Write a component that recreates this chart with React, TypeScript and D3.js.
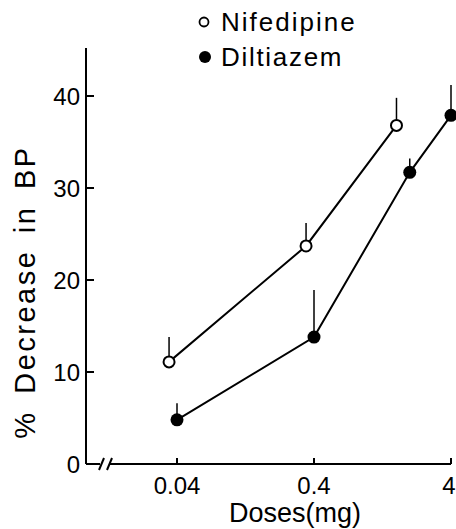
import * as d3 from 'd3'

const width = 456
const height = 529

const doseTicks = [0.04, 0.4, 4]
const doseLabels = ['0.04', '0.4', '4']
const bpTicks = [0, 10, 20, 30, 40]

const nifDoses = [0.035, 0.35, 1.6]
const nifValues = [11.1, 23.7, 36.8]
const nifErrors = [2.7, 2.5, 3.0]

const dilDoses = [0.04, 0.4, 2.0, 4]
const dilValues = [4.8, 13.8, 31.7, 37.9]
const dilErrors = [1.8, 5.1, 1.5, 3.3]

const font = "'Liberation Sans', Arial, sans-serif"

export default function App() {
  const x = d3.scaleLog().domain([0.04, 4]).range([177, 451])
  const y = d3.scaleLinear().domain([0, 40]).range([464, 96])
  const axisX = 86
  const axisY = y(0)

  const nif = nifDoses.map((d, i) => ({ dose: d, value: nifValues[i], err: nifErrors[i] }))
  const dil = dilDoses.map((d, i) => ({ dose: d, value: dilValues[i], err: dilErrors[i] }))

  const line = d3.line<{ dose: number; value: number }>()
    .x(d => x(d.dose))
    .y(d => y(d.value))

  return (
    <svg width={width} height={height} style={{ position: 'absolute', left: 0, top: 0 }}>
      <rect width={width} height={height} fill="#fff" />
      <g stroke="#000" strokeWidth={2} fill="none">
        {/* y axis */}
        <line x1={axisX} x2={axisX} y1={48} y2={axisY} />
        {bpTicks.map(t => (
          <line key={t} x1={axisX} x2={axisX + 8} y1={y(t)} y2={y(t)} />
        ))}
        {/* x axis with break */}
        <line x1={axisX} x2={100} y1={axisY} y2={axisY} />
        <line x1={99} x2={104} y1={axisY + 6} y2={axisY - 6} />
        <line x1={107} x2={112} y1={axisY + 6} y2={axisY - 6} />
        <line x1={110} x2={x(4)} y1={axisY} y2={axisY} />
        {doseTicks.map(t => (
          <line key={t} x1={x(t)} x2={x(t)} y1={axisY} y2={axisY - 6} />
        ))}
      </g>

      <g fontFamily={font} fontSize={24} fill="#000">
        {bpTicks.map(t => (
          <text key={t} x={axisX - 6} y={y(t)} dy="0.36em" textAnchor="end">{t}</text>
        ))}
        {doseTicks.map((t, i) => (
          <text key={t} x={x(t) - (i === 2 ? 2 : 0)} y={axisY + 30} textAnchor="middle">{doseLabels[i]}</text>
        ))}
        <text x={295} y={522} fontSize={27} textAnchor="middle">Doses(mg)</text>
        <text
          transform={`translate(35, 292) rotate(-90)`}
          fontSize={29}
          letterSpacing={2.5}
          wordSpacing={6}
          textAnchor="middle"
        >% Decrease in BP</text>
      </g>

      {/* error bars */}
      <g stroke="#000" strokeWidth={1.5}>
        {[...nif, ...dil].map((d, i) => (
          <line key={i} x1={x(d.dose)} x2={x(d.dose)} y1={y(d.value)} y2={y(d.value + d.err)} />
        ))}
      </g>

      <path d={line(nif) || ''} stroke="#000" strokeWidth={2} fill="none" />
      <path d={line(dil) || ''} stroke="#000" strokeWidth={2} fill="none" />

      {nif.map((d, i) => (
        <circle key={i} cx={x(d.dose)} cy={y(d.value)} r={5.5} fill="#fff" stroke="#000" strokeWidth={2} />
      ))}
      {dil.map((d, i) => (
        <circle key={i} cx={x(d.dose)} cy={y(d.value)} r={6.5} fill="#000" />
      ))}

      {/* legend */}
      <g fontFamily={font} fontSize={26}>
        <circle cx={204} cy={22} r={4.5} fill="#fff" stroke="#000" strokeWidth={1.8} />
        <text x={221} y={31} letterSpacing={2}>Nifedipine</text>
        <circle cx={205} cy={57} r={6} fill="#000" />
        <text x={221} y={66} letterSpacing={1.7}>Diltiazem</text>
      </g>
    </svg>
  )
}
